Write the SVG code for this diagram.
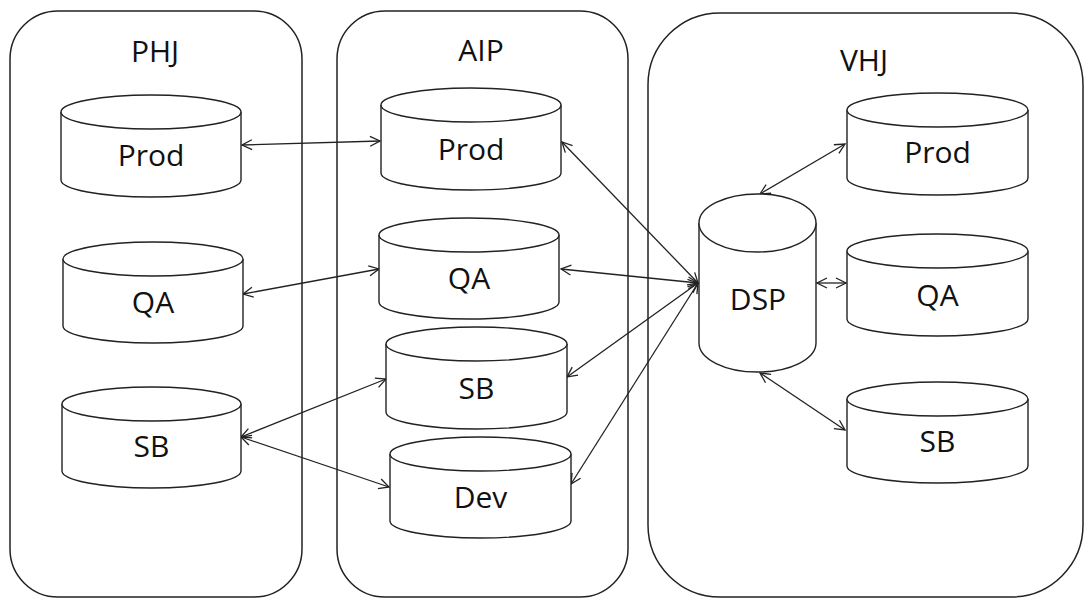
<svg xmlns="http://www.w3.org/2000/svg" width="1087" height="599" viewBox="0 0 1087 599">
<style>
.box{fill:#fff;stroke:#222;stroke-width:1.5}
.cyl{fill:#fff;stroke:#222;stroke-width:1.4}
.lbl{font-family:"Open Sans","Liberation Sans",sans-serif;font-size:30px;fill:#111;text-anchor:middle}
.con{stroke:#222;stroke-width:1.3;fill:none;marker-start:url(#ah);marker-end:url(#ah)}
</style>
<defs>
<marker id="ah" viewBox="0 0 12 12" refX="11" refY="6" markerWidth="12" markerHeight="12" markerUnits="userSpaceOnUse" orient="auto-start-reverse">
<path d="M1,1 L11,6 L1,11" fill="none" stroke="#222" stroke-width="1.3"/>
</marker>
</defs>
<rect width="1087" height="599" fill="#fff"/>
<g id="PHJ"><rect class="box" x="10" y="11" width="292" height="586" rx="48" ry="48"/><text class="lbl" x="155" y="62">PHJ</text></g>
<g id="AIP"><rect class="box" x="337" y="11" width="291" height="586" rx="48" ry="48"/><text class="lbl" x="481" y="61">AIP</text></g>
<g id="VHJ"><rect class="box" x="648" y="13" width="435" height="584" rx="72" ry="72"/><text class="lbl" x="864" y="71">VHJ</text></g>
<g id="connectors">
<line class="con" x1="242" y1="145" x2="380" y2="141"/>
<line class="con" x1="243" y1="294" x2="379" y2="269"/>
<line class="con" x1="241" y1="437" x2="386" y2="379"/>
<line class="con" x1="241" y1="437" x2="389" y2="487"/>
<line class="con" x1="562" y1="142" x2="698" y2="283"/>
<line class="con" x1="561" y1="269" x2="698" y2="283"/>
<line class="con" x1="567" y1="377" x2="698" y2="283"/>
<line class="con" x1="571" y1="484" x2="698" y2="283"/>
<line class="con" x1="760" y1="194" x2="845" y2="144"/>
<line class="con" x1="817" y1="283" x2="846" y2="283"/>
<line class="con" x1="760" y1="373" x2="845" y2="430"/>
</g>
<g id="PHJ-Prod"><path class="cyl" d="M61,112 V180 A90,17 0 0 0 241,180 V112"/><ellipse class="cyl" cx="151" cy="112" rx="90" ry="17"/><text class="lbl" x="151" y="166">Prod</text></g>
<g id="PHJ-QA"><path class="cyl" d="M63,259 V326 A90,17 0 0 0 243,326 V259"/><ellipse class="cyl" cx="153" cy="259" rx="90" ry="17"/><text class="lbl" x="153" y="313">QA</text></g>
<g id="PHJ-SB"><path class="cyl" d="M62,404 V471 A89.5,17 0 0 0 241,471 V404"/><ellipse class="cyl" cx="151.5" cy="404" rx="89.5" ry="17"/><text class="lbl" x="151.5" y="457">SB</text></g>
<g id="AIP-Prod"><path class="cyl" d="M381,105 V173 A90,17 0 0 0 561,173 V105"/><ellipse class="cyl" cx="471" cy="105" rx="90" ry="17"/><text class="lbl" x="471" y="160">Prod</text></g>
<g id="AIP-QA"><path class="cyl" d="M379,235 V302 A90,17 0 0 0 559,302 V235"/><ellipse class="cyl" cx="469" cy="235" rx="90" ry="17"/><text class="lbl" x="469" y="289">QA</text></g>
<g id="AIP-SB"><path class="cyl" d="M386,344 V412 A90.5,17 0 0 0 567,412 V344"/><ellipse class="cyl" cx="476.5" cy="344" rx="90.5" ry="17"/><text class="lbl" x="476.5" y="399">SB</text></g>
<g id="AIP-Dev"><path class="cyl" d="M390,454 V521 A90.5,17 0 0 0 571,521 V454"/><ellipse class="cyl" cx="480.5" cy="454" rx="90.5" ry="17"/><text class="lbl" x="480.5" y="508">Dev</text></g>
<g id="DSP"><path class="cyl" d="M699,223 V343 A58.5,29 0 0 0 816,343 V223"/><ellipse class="cyl" cx="757.5" cy="223" rx="58.5" ry="29"/><text class="lbl" x="758" y="310">DSP</text></g>
<g id="VHJ-Prod"><path class="cyl" d="M847,110 V178 A90.5,17 0 0 0 1028,178 V110"/><ellipse class="cyl" cx="937.5" cy="110" rx="90.5" ry="17"/><text class="lbl" x="937.5" y="163">Prod</text></g>
<g id="VHJ-QA"><path class="cyl" d="M847,251 V319 A90.5,17 0 0 0 1028,319 V251"/><ellipse class="cyl" cx="937.5" cy="251" rx="90.5" ry="17"/><text class="lbl" x="937.5" y="306">QA</text></g>
<g id="VHJ-SB"><path class="cyl" d="M847,399 V466 A90.5,17 0 0 0 1028,466 V399"/><ellipse class="cyl" cx="937.5" cy="399" rx="90.5" ry="17"/><text class="lbl" x="937.5" y="452">SB</text></g>
</svg>
